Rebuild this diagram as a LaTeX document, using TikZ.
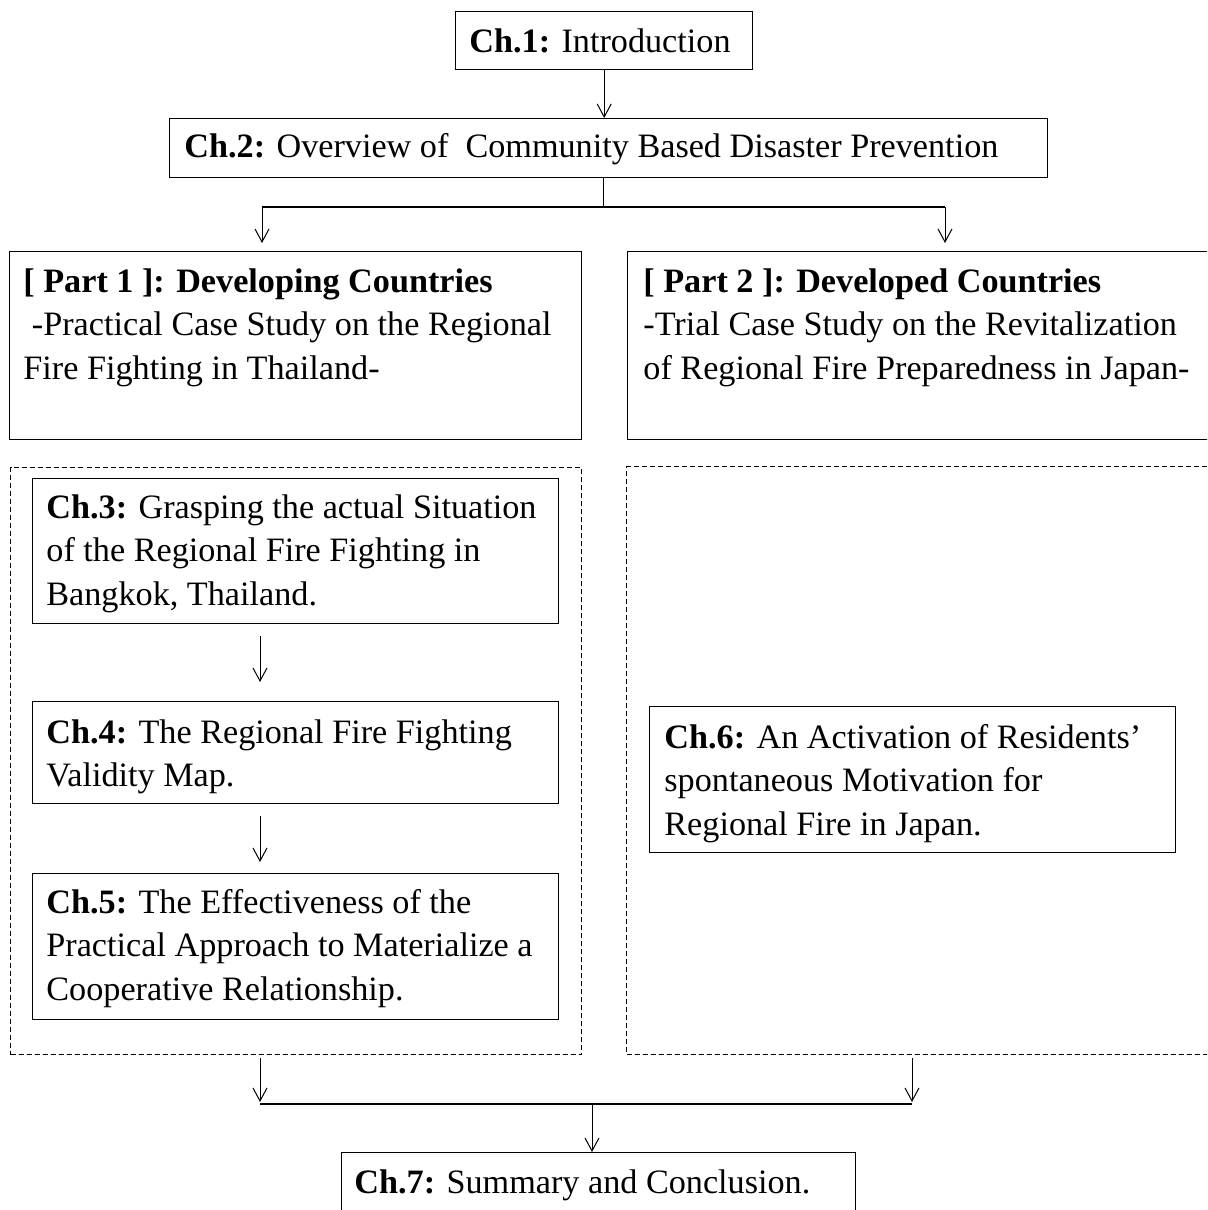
\documentclass[tikz,border=0pt]{standalone}
\usepackage{fontspec}
\setmainfont{Liberation Serif}
\usetikzlibrary{arrows.meta}
\begin{document}
\begin{tikzpicture}[x=0.5pt,y=-0.5pt,
  box/.style={draw, line width=0.7pt, inner sep=0pt, anchor=north west},
  dbox/.style={draw, line width=0.5pt, dash pattern=on 2.5pt off 1.5pt, inner sep=0pt, anchor=north west},
  txt/.style={inner sep=0pt, anchor=base west, font=\fontsize{17.1pt}{21.75pt}\selectfont},
  arr/.style={-{Straight Barb[length=6.5pt,width=7pt]}, line width=0.5pt},
  bar/.style={line width=1.2pt},
  stem/.style={line width=0.5pt}]
\clip (0,0) rectangle (1207,1210);
\fill[white] (0,0) rectangle (1207,1210);

% boxes
\node[box, minimum width=148.5pt, minimum height=29pt] (c1) at (455,11) {};
\node[box, minimum width=439pt, minimum height=29.5pt] (c2) at (169,118) {};
\node[box, minimum width=286pt, minimum height=94pt] (p1) at (9,251) {};
\node[box, minimum width=300pt, minimum height=94pt] (p2) at (627,251) {};
\node[dbox, minimum width=285.5pt, minimum height=293.5pt] (d1) at (10,467) {};
\node[dbox, minimum width=300pt, minimum height=294pt] (d2) at (626,466) {};
\node[box, minimum width=263pt, minimum height=72.5pt] (c3) at (32,478) {};
\node[box, minimum width=263pt, minimum height=51pt] (c4) at (32,701) {};
\node[box, minimum width=263pt, minimum height=73pt] (c5) at (32,873) {};
\node[box, minimum width=263pt, minimum height=73pt] (c6) at (649,706) {};
\node[box, minimum width=257pt, minimum height=60pt] (c7) at (341,1152) {};

% texts
\node[txt] (t1) at (469,52) {\textbf{Ch.1:} Introduction};
\node[txt] (t2) at (184,157) {\textbf{Ch.2:} Overview of\ \ Community Based Disaster Prevention};
\node[txt] (tp1) at (23,292) {\begin{tabular}[t]{@{}l@{}}\textbf{[ Part 1 ]: Developing Countries}\\ \ -Practical Case Study on the Regional\\ Fire Fighting in Thailand-\end{tabular}};
\node[txt] (tp2) at (643,292) {\begin{tabular}[t]{@{}l@{}}\textbf{[ Part 2 ]: Developed Countries}\\ -Trial Case Study on the Revitalization\\ of Regional Fire Preparedness in Japan-\end{tabular}};
\node[txt] (t3) at (46,518) {\begin{tabular}[t]{@{}l@{}}\textbf{Ch.3:} Grasping the actual Situation\\ of the Regional Fire Fighting in\\ Bangkok, Thailand.\end{tabular}};
\node[txt] (t4) at (46,743) {\begin{tabular}[t]{@{}l@{}}\textbf{Ch.4:} The Regional Fire Fighting\\ Validity Map.\end{tabular}};
\node[txt] (t5) at (46,913) {\begin{tabular}[t]{@{}l@{}}\textbf{Ch.5:} The Effectiveness of the\\ Practical Approach to Materialize a\\ Cooperative Relationship.\end{tabular}};
\node[txt] (t6) at (664,748) {\begin{tabular}[t]{@{}l@{}}\textbf{Ch.6:} An Activation of Residents’\\ spontaneous Motivation for\\ Regional Fire in Japan.\end{tabular}};
\node[txt] (t7) at (354,1193) {\textbf{Ch.7:} Summary and Conclusion.};

% connectors
\draw[arr] (c1.south) -- (c1.south |- c2.north);

\coordinate (sm) at (603,207);
\coordinate (sl) at (262,207);
\coordinate (sr) at (945,207);
\draw[stem] (sm |- c2.south) -- (sm);
\draw[bar] (sl) -- (sr);
\draw[arr, shorten >=4pt] (sl) -- (sl |- p1.north);
\draw[arr, shorten >=4pt] (sr) -- (sr |- p2.north);

\coordinate (ax) at (260,0);
\draw[arr, shorten <=6pt, shorten >=9.5pt] (ax |- c3.south) -- (ax |- c4.north);
\draw[arr, shorten <=6pt, shorten >=5.5pt] (ax |- c4.south) -- (ax |- c5.north);

\coordinate (bl) at (260,1104);
\coordinate (br) at (912,1104);
\coordinate (bm) at (592,1104);
\draw[arr, shorten <=1.5pt, shorten >=1pt] (bl |- d1.south) -- (bl);
\draw[arr, shorten <=1.5pt, shorten >=1pt] (br |- d2.south) -- (br);
\draw[bar] (bl) -- (br);
\draw[arr] (bm) -- (bm |- c7.north);
\end{tikzpicture}
\end{document}
